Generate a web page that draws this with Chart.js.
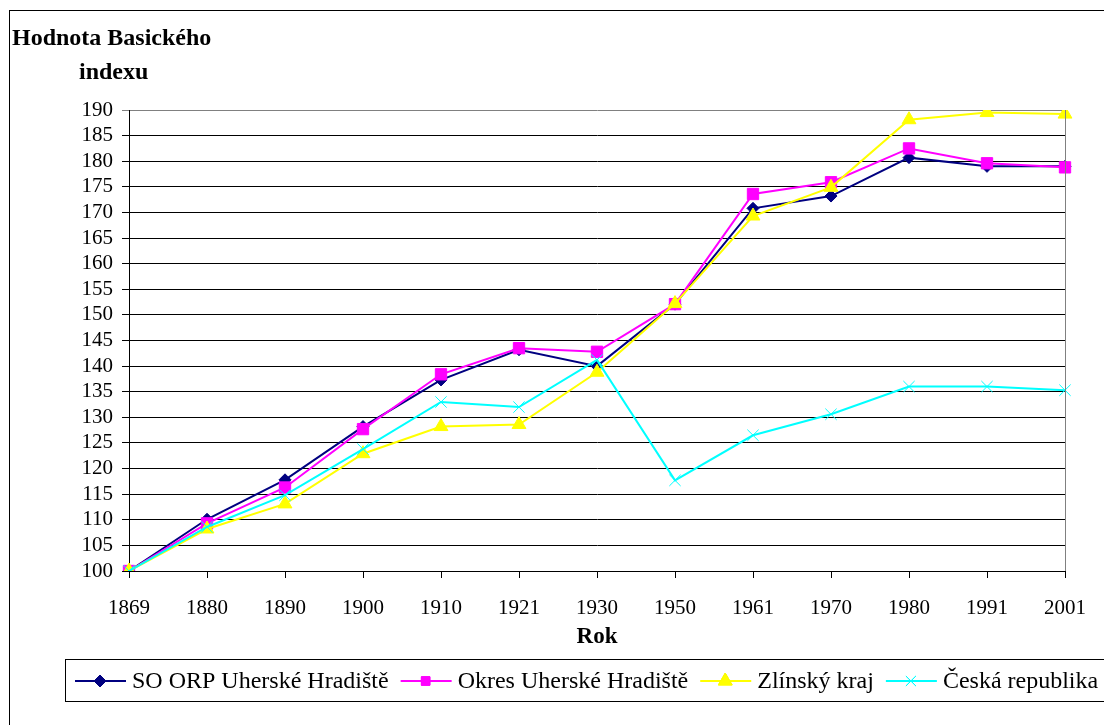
<!DOCTYPE html>
<html>
<head>
<meta charset="utf-8">
<script src="https://cdn.jsdelivr.net/npm/chart.js"></script>
<style>
  body { margin: 0; background: #fff; }
  canvas { display: block; }
</style>
</head>
<body>
<canvas id="graf" width="1104" height="725"></canvas>
<script>
// roky a hodnoty basickeho indexu (1869 = 100)
const years = ['1869', '1880', '1890', '1900', '1910', '1921', '1930', '1950', '1961', '1970', '1980', '1991', '2001'];
const soOrp = [100, 110.1, 117.8, 128.2, 137.3, 143.2, 140.0, 152.1, 170.8, 173.2, 180.7, 179.0, 179.0];
const okres = [100, 109.3, 116.3, 127.7, 138.4, 143.5, 142.8, 152.1, 173.6, 175.9, 182.5, 179.6, 178.8];
const zlin = [100, 108.2, 113.1, 122.9, 128.2, 128.6, 138.8, 152.2, 169.3, 174.9, 188.1, 189.5, 189.2];
const cr = [100, 108.6, 114.8, 123.8, 133.0, 132.0, 141.2, 117.7, 126.5, 130.6, 136.0, 136.0, 135.3];
const labels = ['SO ORP Uherské Hradiště', 'Okres Uherské Hradiště', 'Zlínský kraj', 'Česká republika'];
const yTicks = [100, 105, 110, 115, 120, 125, 130, 135, 140, 145, 150, 155, 160, 165, 170, 175, 180, 185, 190];

const FONT = "'Liberation Serif', 'Times New Roman', serif";

function serie(label, data, color, style, r, order) {
  return {
    label: label, data: data, borderColor: color, backgroundColor: color,
    borderWidth: 2, pointStyle: style, pointRadius: r, pointBorderWidth: 1,
    pointBorderColor: color, pointBackgroundColor: color, tension: 0, order: order
  };
}

// ramecek, pozadi, titulek osy y, legenda
const ramecek = {
  id: 'ramecek',
  beforeDraw(chart) {
    const ctx = chart.ctx;
    ctx.save();
    ctx.fillStyle = '#fff';
    ctx.fillRect(0, 0, chart.width, chart.height);
    ctx.strokeStyle = '#000';
    ctx.lineWidth = 1;
    ctx.strokeRect(9.5, 10.5, 1200, 800);
    ctx.fillStyle = '#000';
    ctx.font = 'bold 24px ' + FONT;
    ctx.textBaseline = 'middle';
    ctx.fillText('Hodnota Basického', 12, 39);
    ctx.fillText('indexu', 79, 73);
    ctx.restore();
  },
  afterDraw(chart) {
    const ctx = chart.ctx;
    const a = chart.chartArea;
    ctx.save();
    ctx.strokeStyle = '#808080';
    ctx.lineWidth = 1;
    ctx.beginPath();
    ctx.moveTo(Math.round(a.right) + 0.5, a.top);
    ctx.lineTo(Math.round(a.right) + 0.5, a.bottom);
    ctx.stroke();

    // legenda
    ctx.strokeStyle = '#000';
    ctx.strokeRect(65.5, 659.5, 1100, 42);
    ctx.font = '24px ' + FONT;
    ctx.textBaseline = 'middle';
    let x = 75;
    const y = 681;
    const legR = { rectRot: 6, rect: 6, triangle: 8, crossRot: 7 };
    chart.data.datasets.forEach(ds => {
      ctx.strokeStyle = ds.borderColor;
      ctx.lineWidth = 2;
      ctx.beginPath();
      ctx.moveTo(x, y);
      ctx.lineTo(x + 51, y);
      ctx.stroke();
      ctx.lineWidth = 1;
      Chart.helpers.drawPoint(ctx, {
        pointStyle: ds.pointStyle, radius: legR[ds.pointStyle], rotation: 0, borderWidth: 1
      }, x + 25, y);
      ctx.fillStyle = ds.borderColor;
      ctx.fill();
      ctx.stroke();
      ctx.fillStyle = '#000';
      ctx.fillText(ds.label, x + 57, y + 1);
      x += 57 + ctx.measureText(ds.label).width + 12;
    });
    ctx.restore();
  }
};

new Chart(document.getElementById('graf'), {
  type: 'line',
  data: {
    labels: years,
    datasets: [
      serie(labels[0], soOrp, '#000080', 'rectRot', 6, 3),
      serie(labels[1], okres, '#FF00FF', 'rect', 8, 2),
      serie(labels[2], zlin, '#FFFF00', 'triangle', 8, 1),
      serie(labels[3], cr, '#00FFFF', 'crossRot', 8, 0)
    ]
  },
  options: {
    responsive: false,
    animation: false,
    layout: { padding: { left: 0, right: 32, top: 110, bottom: 74 } },
    plugins: { legend: { display: false }, tooltip: { enabled: false } },
    scales: {
      x: {
        offset: false,
        grid: { drawOnChartArea: false, drawTicks: true, tickLength: 7, color: '#000' },
        border: { color: '#000', width: 1 },
        ticks: { color: '#000', font: { family: FONT, size: 21 }, padding: 18, maxRotation: 0, autoSkip: false },
        title: { display: true, text: 'Rok', color: '#000', font: { family: FONT, size: 23, weight: 'bold' }, padding: { top: 0, bottom: 0 } },
        afterFit(s) { s.height = 80; }
      },
      y: {
        min: 100, max: 190,
        afterBuildTicks(s) { s.ticks = yTicks.map(v => ({ value: v })); },
        grid: {
          color: c => (c.tick && c.tick.value === 190 ? '#808080' : '#000'),
          tickLength: 7, lineWidth: 1
        },
        border: { color: '#000', width: 1 },
        ticks: { color: '#000', font: { family: FONT, size: 21 }, padding: 9, autoSkip: false },
        afterFit(s) { s.width = 129; }
      }
    }
  },
  plugins: [ramecek]
});
</script>
</body>
</html>
